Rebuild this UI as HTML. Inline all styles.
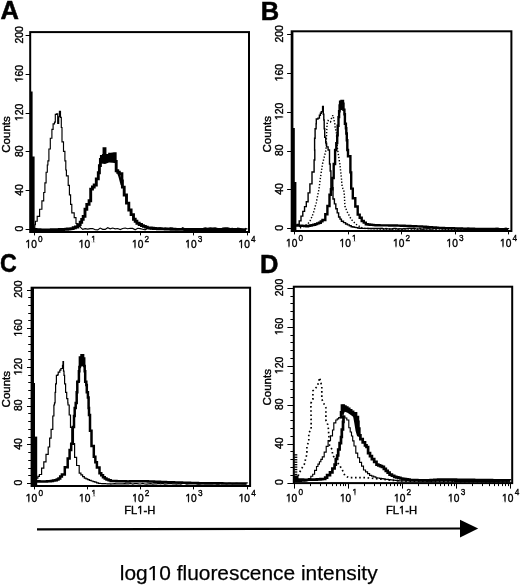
<!DOCTYPE html>
<html><head><meta charset="utf-8"><style>
html,body{margin:0;padding:0;background:#fff;}
body{width:520px;height:586px;overflow:hidden;}
svg{display:block;font-family:"Liberation Sans", sans-serif;will-change:transform;}
</style></head><body>
<svg width="520" height="586" viewBox="0 0 520 586">
<rect x="30.2" y="32.1" width="218.80" height="199.90" fill="none" stroke="#000" stroke-width="2.0"/>
<line x1="25.60" y1="229.50" x2="30.2" y2="229.50" stroke="#000" stroke-width="1.05"/>
<g transform="translate(23.00,228.70) rotate(-90) scale(0.93,1)"><text x="0" y="0" text-anchor="middle" font-size="11.2" stroke="#000" stroke-width="0.4">0</text></g>
<line x1="25.60" y1="190.50" x2="30.2" y2="190.50" stroke="#000" stroke-width="1.05"/>
<g transform="translate(23.00,189.92) rotate(-90) scale(0.93,1)"><text x="0" y="0" text-anchor="middle" font-size="11.2" stroke="#000" stroke-width="0.4">40</text></g>
<line x1="25.60" y1="151.50" x2="30.2" y2="151.50" stroke="#000" stroke-width="1.05"/>
<g transform="translate(23.00,151.14) rotate(-90) scale(0.93,1)"><text x="0" y="0" text-anchor="middle" font-size="11.2" stroke="#000" stroke-width="0.4">80</text></g>
<line x1="25.60" y1="113.50" x2="30.2" y2="113.50" stroke="#000" stroke-width="1.05"/>
<g transform="translate(23.00,112.36) rotate(-90) scale(0.93,1)"><text x="0" y="0" text-anchor="middle" font-size="11.2" stroke="#000" stroke-width="0.4">120</text><rect x="-9.29" y="-1.29" width="2.71" height="2.44" fill="#fff"/><rect x="-5.46" y="-1.29" width="2.63" height="2.44" fill="#fff"/></g>
<line x1="25.60" y1="74.50" x2="30.2" y2="74.50" stroke="#000" stroke-width="1.05"/>
<g transform="translate(23.00,73.58) rotate(-90) scale(0.93,1)"><text x="0" y="0" text-anchor="middle" font-size="11.2" stroke="#000" stroke-width="0.4">160</text><rect x="-9.29" y="-1.29" width="2.71" height="2.44" fill="#fff"/><rect x="-5.46" y="-1.29" width="2.63" height="2.44" fill="#fff"/></g>
<line x1="25.60" y1="35.50" x2="30.2" y2="35.50" stroke="#000" stroke-width="1.05"/>
<g transform="translate(23.00,34.80) rotate(-90) scale(0.93,1)"><text x="0" y="0" text-anchor="middle" font-size="11.2" stroke="#000" stroke-width="0.4">200</text></g>
<text transform="translate(10.00,134.50) rotate(-90)" text-anchor="middle" font-size="11.5" stroke="#000" stroke-width="0.4">Counts</text>
<line x1="34.50" y1="232.0" x2="34.50" y2="235.40" stroke="#000" stroke-width="1.05"/>
<g transform="translate(36.80,248.30) scale(0.91,1)"><text x="0" y="0" text-anchor="end" font-size="11.2" stroke="#000" stroke-width="0.4">10</text><rect x="-12.40" y="-1.29" width="2.71" height="2.44" fill="#fff"/><rect x="-8.57" y="-1.29" width="2.63" height="2.44" fill="#fff"/></g>
<g transform="translate(38.10,241.50) scale(0.84,1)"><text x="0" y="0" text-anchor="start" font-size="9.8" stroke="#000" stroke-width="0.4">0</text></g>
<line x1="87.50" y1="232.0" x2="87.50" y2="235.40" stroke="#000" stroke-width="1.05"/>
<g transform="translate(90.05,248.30) scale(0.91,1)"><text x="0" y="0" text-anchor="end" font-size="11.2" stroke="#000" stroke-width="0.4">10</text><rect x="-12.40" y="-1.29" width="2.71" height="2.44" fill="#fff"/><rect x="-8.57" y="-1.29" width="2.63" height="2.44" fill="#fff"/></g>
<g transform="translate(91.35,241.50) scale(0.84,1)"><text x="0" y="0" text-anchor="start" font-size="9.8" stroke="#000" stroke-width="0.4">1</text><rect x="-0.05" y="-1.18" width="2.47" height="2.33" fill="#fff"/><rect x="3.41" y="-1.18" width="2.39" height="2.33" fill="#fff"/></g>
<line x1="140.50" y1="232.0" x2="140.50" y2="235.40" stroke="#000" stroke-width="1.05"/>
<g transform="translate(143.30,248.30) scale(0.91,1)"><text x="0" y="0" text-anchor="end" font-size="11.2" stroke="#000" stroke-width="0.4">10</text><rect x="-12.40" y="-1.29" width="2.71" height="2.44" fill="#fff"/><rect x="-8.57" y="-1.29" width="2.63" height="2.44" fill="#fff"/></g>
<g transform="translate(144.60,241.50) scale(0.84,1)"><text x="0" y="0" text-anchor="start" font-size="9.8" stroke="#000" stroke-width="0.4">2</text></g>
<line x1="193.50" y1="232.0" x2="193.50" y2="235.40" stroke="#000" stroke-width="1.05"/>
<g transform="translate(196.55,248.30) scale(0.91,1)"><text x="0" y="0" text-anchor="end" font-size="11.2" stroke="#000" stroke-width="0.4">10</text><rect x="-12.40" y="-1.29" width="2.71" height="2.44" fill="#fff"/><rect x="-8.57" y="-1.29" width="2.63" height="2.44" fill="#fff"/></g>
<g transform="translate(197.85,241.50) scale(0.84,1)"><text x="0" y="0" text-anchor="start" font-size="9.8" stroke="#000" stroke-width="0.4">3</text></g>
<line x1="247.50" y1="232.0" x2="247.50" y2="235.40" stroke="#000" stroke-width="1.05"/>
<g transform="translate(249.80,248.30) scale(0.91,1)"><text x="0" y="0" text-anchor="end" font-size="11.2" stroke="#000" stroke-width="0.4">10</text><rect x="-12.40" y="-1.29" width="2.71" height="2.44" fill="#fff"/><rect x="-8.57" y="-1.29" width="2.63" height="2.44" fill="#fff"/></g>
<g transform="translate(251.10,241.50) scale(0.84,1)"><text x="0" y="0" text-anchor="start" font-size="9.8" stroke="#000" stroke-width="0.4">4</text></g>
<text transform="translate(0.6,18.8) scale(1.0,1)" font-size="25.5" font-weight="bold" stroke="#000" stroke-width="0.5">A</text>
<rect x="291.7" y="31.3" width="219.70" height="199.70" fill="none" stroke="#000" stroke-width="2.0"/>
<line x1="287.10" y1="228.50" x2="291.7" y2="228.50" stroke="#000" stroke-width="1.05"/>
<g transform="translate(283.20,227.80) rotate(-90) scale(0.93,1)"><text x="0" y="0" text-anchor="middle" font-size="11.2" stroke="#000" stroke-width="0.4">0</text></g>
<line x1="287.10" y1="189.50" x2="291.7" y2="189.50" stroke="#000" stroke-width="1.05"/>
<g transform="translate(283.20,189.00) rotate(-90) scale(0.93,1)"><text x="0" y="0" text-anchor="middle" font-size="11.2" stroke="#000" stroke-width="0.4">40</text></g>
<line x1="287.10" y1="151.50" x2="291.7" y2="151.50" stroke="#000" stroke-width="1.05"/>
<g transform="translate(283.20,150.20) rotate(-90) scale(0.93,1)"><text x="0" y="0" text-anchor="middle" font-size="11.2" stroke="#000" stroke-width="0.4">80</text></g>
<line x1="287.10" y1="112.50" x2="291.7" y2="112.50" stroke="#000" stroke-width="1.05"/>
<g transform="translate(283.20,111.40) rotate(-90) scale(0.93,1)"><text x="0" y="0" text-anchor="middle" font-size="11.2" stroke="#000" stroke-width="0.4">120</text><rect x="-9.29" y="-1.29" width="2.71" height="2.44" fill="#fff"/><rect x="-5.46" y="-1.29" width="2.63" height="2.44" fill="#fff"/></g>
<line x1="287.10" y1="73.50" x2="291.7" y2="73.50" stroke="#000" stroke-width="1.05"/>
<g transform="translate(283.20,72.60) rotate(-90) scale(0.93,1)"><text x="0" y="0" text-anchor="middle" font-size="11.2" stroke="#000" stroke-width="0.4">160</text><rect x="-9.29" y="-1.29" width="2.71" height="2.44" fill="#fff"/><rect x="-5.46" y="-1.29" width="2.63" height="2.44" fill="#fff"/></g>
<line x1="287.10" y1="34.50" x2="291.7" y2="34.50" stroke="#000" stroke-width="1.05"/>
<g transform="translate(283.20,33.80) rotate(-90) scale(0.93,1)"><text x="0" y="0" text-anchor="middle" font-size="11.2" stroke="#000" stroke-width="0.4">200</text></g>
<text transform="translate(271.10,134.30) rotate(-90)" text-anchor="middle" font-size="11.5" stroke="#000" stroke-width="0.4">Counts</text>
<line x1="294.50" y1="231.0" x2="294.50" y2="234.40" stroke="#000" stroke-width="1.05"/>
<g transform="translate(297.30,247.30) scale(0.91,1)"><text x="0" y="0" text-anchor="end" font-size="11.2" stroke="#000" stroke-width="0.4">10</text><rect x="-12.40" y="-1.29" width="2.71" height="2.44" fill="#fff"/><rect x="-8.57" y="-1.29" width="2.63" height="2.44" fill="#fff"/></g>
<g transform="translate(298.60,240.50) scale(0.84,1)"><text x="0" y="0" text-anchor="start" font-size="9.8" stroke="#000" stroke-width="0.4">0</text></g>
<line x1="348.50" y1="231.0" x2="348.50" y2="234.40" stroke="#000" stroke-width="1.05"/>
<g transform="translate(350.80,247.30) scale(0.91,1)"><text x="0" y="0" text-anchor="end" font-size="11.2" stroke="#000" stroke-width="0.4">10</text><rect x="-12.40" y="-1.29" width="2.71" height="2.44" fill="#fff"/><rect x="-8.57" y="-1.29" width="2.63" height="2.44" fill="#fff"/></g>
<g transform="translate(352.10,240.50) scale(0.84,1)"><text x="0" y="0" text-anchor="start" font-size="9.8" stroke="#000" stroke-width="0.4">1</text><rect x="-0.05" y="-1.18" width="2.47" height="2.33" fill="#fff"/><rect x="3.41" y="-1.18" width="2.39" height="2.33" fill="#fff"/></g>
<line x1="401.50" y1="231.0" x2="401.50" y2="234.40" stroke="#000" stroke-width="1.05"/>
<g transform="translate(404.30,247.30) scale(0.91,1)"><text x="0" y="0" text-anchor="end" font-size="11.2" stroke="#000" stroke-width="0.4">10</text><rect x="-12.40" y="-1.29" width="2.71" height="2.44" fill="#fff"/><rect x="-8.57" y="-1.29" width="2.63" height="2.44" fill="#fff"/></g>
<g transform="translate(405.60,240.50) scale(0.84,1)"><text x="0" y="0" text-anchor="start" font-size="9.8" stroke="#000" stroke-width="0.4">2</text></g>
<line x1="455.50" y1="231.0" x2="455.50" y2="234.40" stroke="#000" stroke-width="1.05"/>
<g transform="translate(457.80,247.30) scale(0.91,1)"><text x="0" y="0" text-anchor="end" font-size="11.2" stroke="#000" stroke-width="0.4">10</text><rect x="-12.40" y="-1.29" width="2.71" height="2.44" fill="#fff"/><rect x="-8.57" y="-1.29" width="2.63" height="2.44" fill="#fff"/></g>
<g transform="translate(459.10,240.50) scale(0.84,1)"><text x="0" y="0" text-anchor="start" font-size="9.8" stroke="#000" stroke-width="0.4">3</text></g>
<line x1="508.50" y1="231.0" x2="508.50" y2="234.40" stroke="#000" stroke-width="1.05"/>
<g transform="translate(511.30,247.30) scale(0.91,1)"><text x="0" y="0" text-anchor="end" font-size="11.2" stroke="#000" stroke-width="0.4">10</text><rect x="-12.40" y="-1.29" width="2.71" height="2.44" fill="#fff"/><rect x="-8.57" y="-1.29" width="2.63" height="2.44" fill="#fff"/></g>
<g transform="translate(512.60,240.50) scale(0.84,1)"><text x="0" y="0" text-anchor="start" font-size="9.8" stroke="#000" stroke-width="0.4">4</text></g>
<text transform="translate(260.8,19.6) scale(1.0,1)" font-size="25.5" font-weight="bold" stroke="#000" stroke-width="0.5">B</text>
<rect x="31.6" y="287.7" width="218.50" height="198.30" fill="none" stroke="#000" stroke-width="2.0"/>
<line x1="27.00" y1="483.50" x2="31.6" y2="483.50" stroke="#000" stroke-width="1.05"/>
<g transform="translate(22.40,482.70) rotate(-90) scale(0.93,1)"><text x="0" y="0" text-anchor="middle" font-size="11.2" stroke="#000" stroke-width="0.4">0</text></g>
<line x1="27.00" y1="444.50" x2="31.6" y2="444.50" stroke="#000" stroke-width="1.05"/>
<g transform="translate(22.40,444.00) rotate(-90) scale(0.93,1)"><text x="0" y="0" text-anchor="middle" font-size="11.2" stroke="#000" stroke-width="0.4">40</text></g>
<line x1="27.00" y1="406.50" x2="31.6" y2="406.50" stroke="#000" stroke-width="1.05"/>
<g transform="translate(22.40,405.30) rotate(-90) scale(0.93,1)"><text x="0" y="0" text-anchor="middle" font-size="11.2" stroke="#000" stroke-width="0.4">80</text></g>
<line x1="27.00" y1="367.50" x2="31.6" y2="367.50" stroke="#000" stroke-width="1.05"/>
<g transform="translate(22.40,366.60) rotate(-90) scale(0.93,1)"><text x="0" y="0" text-anchor="middle" font-size="11.2" stroke="#000" stroke-width="0.4">120</text><rect x="-9.29" y="-1.29" width="2.71" height="2.44" fill="#fff"/><rect x="-5.46" y="-1.29" width="2.63" height="2.44" fill="#fff"/></g>
<line x1="27.00" y1="328.50" x2="31.6" y2="328.50" stroke="#000" stroke-width="1.05"/>
<g transform="translate(22.40,327.90) rotate(-90) scale(0.93,1)"><text x="0" y="0" text-anchor="middle" font-size="11.2" stroke="#000" stroke-width="0.4">160</text><rect x="-9.29" y="-1.29" width="2.71" height="2.44" fill="#fff"/><rect x="-5.46" y="-1.29" width="2.63" height="2.44" fill="#fff"/></g>
<line x1="27.00" y1="290.50" x2="31.6" y2="290.50" stroke="#000" stroke-width="1.05"/>
<g transform="translate(22.40,289.20) rotate(-90) scale(0.93,1)"><text x="0" y="0" text-anchor="middle" font-size="11.2" stroke="#000" stroke-width="0.4">200</text></g>
<line x1="28.20" y1="475.50" x2="31.6" y2="475.50" stroke="#000" stroke-width="1.05"/>
<line x1="28.20" y1="468.50" x2="31.6" y2="468.50" stroke="#000" stroke-width="1.05"/>
<line x1="28.20" y1="460.50" x2="31.6" y2="460.50" stroke="#000" stroke-width="1.05"/>
<line x1="28.20" y1="452.50" x2="31.6" y2="452.50" stroke="#000" stroke-width="1.05"/>
<line x1="28.20" y1="437.50" x2="31.6" y2="437.50" stroke="#000" stroke-width="1.05"/>
<line x1="28.20" y1="429.50" x2="31.6" y2="429.50" stroke="#000" stroke-width="1.05"/>
<line x1="28.20" y1="421.50" x2="31.6" y2="421.50" stroke="#000" stroke-width="1.05"/>
<line x1="28.20" y1="413.50" x2="31.6" y2="413.50" stroke="#000" stroke-width="1.05"/>
<line x1="28.20" y1="398.50" x2="31.6" y2="398.50" stroke="#000" stroke-width="1.05"/>
<line x1="28.20" y1="390.50" x2="31.6" y2="390.50" stroke="#000" stroke-width="1.05"/>
<line x1="28.20" y1="382.50" x2="31.6" y2="382.50" stroke="#000" stroke-width="1.05"/>
<line x1="28.20" y1="375.50" x2="31.6" y2="375.50" stroke="#000" stroke-width="1.05"/>
<line x1="28.20" y1="359.50" x2="31.6" y2="359.50" stroke="#000" stroke-width="1.05"/>
<line x1="28.20" y1="351.50" x2="31.6" y2="351.50" stroke="#000" stroke-width="1.05"/>
<line x1="28.20" y1="344.50" x2="31.6" y2="344.50" stroke="#000" stroke-width="1.05"/>
<line x1="28.20" y1="336.50" x2="31.6" y2="336.50" stroke="#000" stroke-width="1.05"/>
<line x1="28.20" y1="320.50" x2="31.6" y2="320.50" stroke="#000" stroke-width="1.05"/>
<line x1="28.20" y1="313.50" x2="31.6" y2="313.50" stroke="#000" stroke-width="1.05"/>
<line x1="28.20" y1="305.50" x2="31.6" y2="305.50" stroke="#000" stroke-width="1.05"/>
<line x1="28.20" y1="297.50" x2="31.6" y2="297.50" stroke="#000" stroke-width="1.05"/>
<text transform="translate(10.20,389.20) rotate(-90)" text-anchor="middle" font-size="11.5" stroke="#000" stroke-width="0.4">Counts</text>
<line x1="34.50" y1="486.0" x2="34.50" y2="489.40" stroke="#000" stroke-width="1.05"/>
<g transform="translate(37.10,502.30) scale(0.91,1)"><text x="0" y="0" text-anchor="end" font-size="11.2" stroke="#000" stroke-width="0.4">10</text><rect x="-12.40" y="-1.29" width="2.71" height="2.44" fill="#fff"/><rect x="-8.57" y="-1.29" width="2.63" height="2.44" fill="#fff"/></g>
<g transform="translate(38.40,495.50) scale(0.84,1)"><text x="0" y="0" text-anchor="start" font-size="9.8" stroke="#000" stroke-width="0.4">0</text></g>
<line x1="87.50" y1="486.0" x2="87.50" y2="489.40" stroke="#000" stroke-width="1.05"/>
<g transform="translate(90.32,502.30) scale(0.91,1)"><text x="0" y="0" text-anchor="end" font-size="11.2" stroke="#000" stroke-width="0.4">10</text><rect x="-12.40" y="-1.29" width="2.71" height="2.44" fill="#fff"/><rect x="-8.57" y="-1.29" width="2.63" height="2.44" fill="#fff"/></g>
<g transform="translate(91.62,495.50) scale(0.84,1)"><text x="0" y="0" text-anchor="start" font-size="9.8" stroke="#000" stroke-width="0.4">1</text><rect x="-0.05" y="-1.18" width="2.47" height="2.33" fill="#fff"/><rect x="3.41" y="-1.18" width="2.39" height="2.33" fill="#fff"/></g>
<line x1="140.50" y1="486.0" x2="140.50" y2="489.40" stroke="#000" stroke-width="1.05"/>
<g transform="translate(143.55,502.30) scale(0.91,1)"><text x="0" y="0" text-anchor="end" font-size="11.2" stroke="#000" stroke-width="0.4">10</text><rect x="-12.40" y="-1.29" width="2.71" height="2.44" fill="#fff"/><rect x="-8.57" y="-1.29" width="2.63" height="2.44" fill="#fff"/></g>
<g transform="translate(144.85,495.50) scale(0.84,1)"><text x="0" y="0" text-anchor="start" font-size="9.8" stroke="#000" stroke-width="0.4">2</text></g>
<line x1="193.50" y1="486.0" x2="193.50" y2="489.40" stroke="#000" stroke-width="1.05"/>
<g transform="translate(196.77,502.30) scale(0.91,1)"><text x="0" y="0" text-anchor="end" font-size="11.2" stroke="#000" stroke-width="0.4">10</text><rect x="-12.40" y="-1.29" width="2.71" height="2.44" fill="#fff"/><rect x="-8.57" y="-1.29" width="2.63" height="2.44" fill="#fff"/></g>
<g transform="translate(198.07,495.50) scale(0.84,1)"><text x="0" y="0" text-anchor="start" font-size="9.8" stroke="#000" stroke-width="0.4">3</text></g>
<line x1="247.50" y1="486.0" x2="247.50" y2="489.40" stroke="#000" stroke-width="1.05"/>
<g transform="translate(250.00,502.30) scale(0.91,1)"><text x="0" y="0" text-anchor="end" font-size="11.2" stroke="#000" stroke-width="0.4">10</text><rect x="-12.40" y="-1.29" width="2.71" height="2.44" fill="#fff"/><rect x="-8.57" y="-1.29" width="2.63" height="2.44" fill="#fff"/></g>
<g transform="translate(251.30,495.50) scale(0.84,1)"><text x="0" y="0" text-anchor="start" font-size="9.8" stroke="#000" stroke-width="0.4">4</text></g>
<g transform="translate(139.75,514.00)"><text x="0" y="0" text-anchor="middle" font-size="11.2" stroke="#000" stroke-width="0.4">FL1-H</text><rect x="-2.44" y="-1.29" width="2.71" height="2.44" fill="#fff"/><rect x="1.40" y="-1.29" width="2.63" height="2.44" fill="#fff"/></g>
<text transform="translate(0.0,272.2) scale(0.91,1)" font-size="25.5" font-weight="bold" stroke="#000" stroke-width="0.5">C</text>
<rect x="293.8" y="286.7" width="218.40" height="196.40" fill="none" stroke="#000" stroke-width="2.0"/>
<line x1="287.40" y1="483.50" x2="293.8" y2="483.50" stroke="#000" stroke-width="1.05"/>
<g transform="translate(283.00,482.20) rotate(-90) scale(0.93,1)"><text x="0" y="0" text-anchor="middle" font-size="11.2" stroke="#000" stroke-width="0.4">0</text></g>
<line x1="287.40" y1="444.50" x2="293.8" y2="444.50" stroke="#000" stroke-width="1.05"/>
<g transform="translate(283.00,443.26) rotate(-90) scale(0.93,1)"><text x="0" y="0" text-anchor="middle" font-size="11.2" stroke="#000" stroke-width="0.4">40</text></g>
<line x1="287.40" y1="405.50" x2="293.8" y2="405.50" stroke="#000" stroke-width="1.05"/>
<g transform="translate(283.00,404.32) rotate(-90) scale(0.93,1)"><text x="0" y="0" text-anchor="middle" font-size="11.2" stroke="#000" stroke-width="0.4">80</text></g>
<line x1="287.40" y1="366.50" x2="293.8" y2="366.50" stroke="#000" stroke-width="1.05"/>
<g transform="translate(283.00,365.38) rotate(-90) scale(0.93,1)"><text x="0" y="0" text-anchor="middle" font-size="11.2" stroke="#000" stroke-width="0.4">120</text><rect x="-9.29" y="-1.29" width="2.71" height="2.44" fill="#fff"/><rect x="-5.46" y="-1.29" width="2.63" height="2.44" fill="#fff"/></g>
<line x1="287.40" y1="327.50" x2="293.8" y2="327.50" stroke="#000" stroke-width="1.05"/>
<g transform="translate(283.00,326.44) rotate(-90) scale(0.93,1)"><text x="0" y="0" text-anchor="middle" font-size="11.2" stroke="#000" stroke-width="0.4">160</text><rect x="-9.29" y="-1.29" width="2.71" height="2.44" fill="#fff"/><rect x="-5.46" y="-1.29" width="2.63" height="2.44" fill="#fff"/></g>
<line x1="287.40" y1="288.50" x2="293.8" y2="288.50" stroke="#000" stroke-width="1.05"/>
<g transform="translate(283.00,287.50) rotate(-90) scale(0.93,1)"><text x="0" y="0" text-anchor="middle" font-size="11.2" stroke="#000" stroke-width="0.4">200</text></g>
<line x1="290.40" y1="475.50" x2="293.8" y2="475.50" stroke="#000" stroke-width="1.05"/>
<line x1="290.40" y1="467.50" x2="293.8" y2="467.50" stroke="#000" stroke-width="1.05"/>
<line x1="290.40" y1="459.50" x2="293.8" y2="459.50" stroke="#000" stroke-width="1.05"/>
<line x1="290.40" y1="451.50" x2="293.8" y2="451.50" stroke="#000" stroke-width="1.05"/>
<line x1="290.40" y1="436.50" x2="293.8" y2="436.50" stroke="#000" stroke-width="1.05"/>
<line x1="290.40" y1="428.50" x2="293.8" y2="428.50" stroke="#000" stroke-width="1.05"/>
<line x1="290.40" y1="420.50" x2="293.8" y2="420.50" stroke="#000" stroke-width="1.05"/>
<line x1="290.40" y1="412.50" x2="293.8" y2="412.50" stroke="#000" stroke-width="1.05"/>
<line x1="290.40" y1="397.50" x2="293.8" y2="397.50" stroke="#000" stroke-width="1.05"/>
<line x1="290.40" y1="389.50" x2="293.8" y2="389.50" stroke="#000" stroke-width="1.05"/>
<line x1="290.40" y1="381.50" x2="293.8" y2="381.50" stroke="#000" stroke-width="1.05"/>
<line x1="290.40" y1="373.50" x2="293.8" y2="373.50" stroke="#000" stroke-width="1.05"/>
<line x1="290.40" y1="358.50" x2="293.8" y2="358.50" stroke="#000" stroke-width="1.05"/>
<line x1="290.40" y1="350.50" x2="293.8" y2="350.50" stroke="#000" stroke-width="1.05"/>
<line x1="290.40" y1="342.50" x2="293.8" y2="342.50" stroke="#000" stroke-width="1.05"/>
<line x1="290.40" y1="335.50" x2="293.8" y2="335.50" stroke="#000" stroke-width="1.05"/>
<line x1="290.40" y1="319.50" x2="293.8" y2="319.50" stroke="#000" stroke-width="1.05"/>
<line x1="290.40" y1="311.50" x2="293.8" y2="311.50" stroke="#000" stroke-width="1.05"/>
<line x1="290.40" y1="303.50" x2="293.8" y2="303.50" stroke="#000" stroke-width="1.05"/>
<line x1="290.40" y1="296.50" x2="293.8" y2="296.50" stroke="#000" stroke-width="1.05"/>
<text transform="translate(271.40,387.30) rotate(-90)" text-anchor="middle" font-size="11.5" stroke="#000" stroke-width="0.4">Counts</text>
<line x1="294.50" y1="483.1" x2="294.50" y2="488.60" stroke="#000" stroke-width="1.05"/>
<g transform="translate(297.20,502.30) scale(0.91,1)"><text x="0" y="0" text-anchor="end" font-size="11.2" stroke="#000" stroke-width="0.4">10</text><rect x="-12.40" y="-1.29" width="2.71" height="2.44" fill="#fff"/><rect x="-8.57" y="-1.29" width="2.63" height="2.44" fill="#fff"/></g>
<g transform="translate(298.50,494.90) scale(0.84,1)"><text x="0" y="0" text-anchor="start" font-size="9.8" stroke="#000" stroke-width="0.4">0</text></g>
<line x1="348.50" y1="483.1" x2="348.50" y2="488.60" stroke="#000" stroke-width="1.05"/>
<g transform="translate(351.25,502.30) scale(0.91,1)"><text x="0" y="0" text-anchor="end" font-size="11.2" stroke="#000" stroke-width="0.4">10</text><rect x="-12.40" y="-1.29" width="2.71" height="2.44" fill="#fff"/><rect x="-8.57" y="-1.29" width="2.63" height="2.44" fill="#fff"/></g>
<g transform="translate(352.55,494.90) scale(0.84,1)"><text x="0" y="0" text-anchor="start" font-size="9.8" stroke="#000" stroke-width="0.4">1</text><rect x="-0.05" y="-1.18" width="2.47" height="2.33" fill="#fff"/><rect x="3.41" y="-1.18" width="2.39" height="2.33" fill="#fff"/></g>
<line x1="402.50" y1="483.1" x2="402.50" y2="488.60" stroke="#000" stroke-width="1.05"/>
<g transform="translate(405.30,502.30) scale(0.91,1)"><text x="0" y="0" text-anchor="end" font-size="11.2" stroke="#000" stroke-width="0.4">10</text><rect x="-12.40" y="-1.29" width="2.71" height="2.44" fill="#fff"/><rect x="-8.57" y="-1.29" width="2.63" height="2.44" fill="#fff"/></g>
<g transform="translate(406.60,494.90) scale(0.84,1)"><text x="0" y="0" text-anchor="start" font-size="9.8" stroke="#000" stroke-width="0.4">2</text></g>
<line x1="456.50" y1="483.1" x2="456.50" y2="488.60" stroke="#000" stroke-width="1.05"/>
<g transform="translate(459.35,502.30) scale(0.91,1)"><text x="0" y="0" text-anchor="end" font-size="11.2" stroke="#000" stroke-width="0.4">10</text><rect x="-12.40" y="-1.29" width="2.71" height="2.44" fill="#fff"/><rect x="-8.57" y="-1.29" width="2.63" height="2.44" fill="#fff"/></g>
<g transform="translate(460.65,494.90) scale(0.84,1)"><text x="0" y="0" text-anchor="start" font-size="9.8" stroke="#000" stroke-width="0.4">3</text></g>
<line x1="510.50" y1="483.1" x2="510.50" y2="488.60" stroke="#000" stroke-width="1.05"/>
<g transform="translate(513.40,502.30) scale(0.91,1)"><text x="0" y="0" text-anchor="end" font-size="11.2" stroke="#000" stroke-width="0.4">10</text><rect x="-12.40" y="-1.29" width="2.71" height="2.44" fill="#fff"/><rect x="-8.57" y="-1.29" width="2.63" height="2.44" fill="#fff"/></g>
<g transform="translate(514.70,494.90) scale(0.84,1)"><text x="0" y="0" text-anchor="start" font-size="9.8" stroke="#000" stroke-width="0.4">4</text></g>
<line x1="310.50" y1="483.1" x2="310.50" y2="486.10" stroke="#000" stroke-width="1.05"/>
<line x1="320.50" y1="483.1" x2="320.50" y2="486.10" stroke="#000" stroke-width="1.05"/>
<line x1="326.50" y1="483.1" x2="326.50" y2="486.10" stroke="#000" stroke-width="1.05"/>
<line x1="332.50" y1="483.1" x2="332.50" y2="486.10" stroke="#000" stroke-width="1.05"/>
<line x1="336.50" y1="483.1" x2="336.50" y2="486.10" stroke="#000" stroke-width="1.05"/>
<line x1="340.50" y1="483.1" x2="340.50" y2="486.10" stroke="#000" stroke-width="1.05"/>
<line x1="343.50" y1="483.1" x2="343.50" y2="486.10" stroke="#000" stroke-width="1.05"/>
<line x1="345.50" y1="483.1" x2="345.50" y2="486.10" stroke="#000" stroke-width="1.05"/>
<line x1="364.50" y1="483.1" x2="364.50" y2="486.10" stroke="#000" stroke-width="1.05"/>
<line x1="374.50" y1="483.1" x2="374.50" y2="486.10" stroke="#000" stroke-width="1.05"/>
<line x1="380.50" y1="483.1" x2="380.50" y2="486.10" stroke="#000" stroke-width="1.05"/>
<line x1="386.50" y1="483.1" x2="386.50" y2="486.10" stroke="#000" stroke-width="1.05"/>
<line x1="390.50" y1="483.1" x2="390.50" y2="486.10" stroke="#000" stroke-width="1.05"/>
<line x1="394.50" y1="483.1" x2="394.50" y2="486.10" stroke="#000" stroke-width="1.05"/>
<line x1="397.50" y1="483.1" x2="397.50" y2="486.10" stroke="#000" stroke-width="1.05"/>
<line x1="400.50" y1="483.1" x2="400.50" y2="486.10" stroke="#000" stroke-width="1.05"/>
<line x1="418.50" y1="483.1" x2="418.50" y2="486.10" stroke="#000" stroke-width="1.05"/>
<line x1="428.50" y1="483.1" x2="428.50" y2="486.10" stroke="#000" stroke-width="1.05"/>
<line x1="435.50" y1="483.1" x2="435.50" y2="486.10" stroke="#000" stroke-width="1.05"/>
<line x1="440.50" y1="483.1" x2="440.50" y2="486.10" stroke="#000" stroke-width="1.05"/>
<line x1="444.50" y1="483.1" x2="444.50" y2="486.10" stroke="#000" stroke-width="1.05"/>
<line x1="448.50" y1="483.1" x2="448.50" y2="486.10" stroke="#000" stroke-width="1.05"/>
<line x1="451.50" y1="483.1" x2="451.50" y2="486.10" stroke="#000" stroke-width="1.05"/>
<line x1="454.50" y1="483.1" x2="454.50" y2="486.10" stroke="#000" stroke-width="1.05"/>
<line x1="472.50" y1="483.1" x2="472.50" y2="486.10" stroke="#000" stroke-width="1.05"/>
<line x1="482.50" y1="483.1" x2="482.50" y2="486.10" stroke="#000" stroke-width="1.05"/>
<line x1="489.50" y1="483.1" x2="489.50" y2="486.10" stroke="#000" stroke-width="1.05"/>
<line x1="494.50" y1="483.1" x2="494.50" y2="486.10" stroke="#000" stroke-width="1.05"/>
<line x1="498.50" y1="483.1" x2="498.50" y2="486.10" stroke="#000" stroke-width="1.05"/>
<line x1="502.50" y1="483.1" x2="502.50" y2="486.10" stroke="#000" stroke-width="1.05"/>
<line x1="505.50" y1="483.1" x2="505.50" y2="486.10" stroke="#000" stroke-width="1.05"/>
<line x1="508.50" y1="483.1" x2="508.50" y2="486.10" stroke="#000" stroke-width="1.05"/>
<g transform="translate(401.50,514.00)"><text x="0" y="0" text-anchor="middle" font-size="11.2" stroke="#000" stroke-width="0.4">FL1-H</text><rect x="-2.44" y="-1.29" width="2.71" height="2.44" fill="#fff"/><rect x="1.40" y="-1.29" width="2.63" height="2.44" fill="#fff"/></g>
<text transform="translate(260.0,272.5) scale(1.0,1)" font-size="25.5" font-weight="bold" stroke="#000" stroke-width="0.5">D</text>
<polyline points="32.50,229.00 33.50,229.00 33.50,228.00 34.80,228.00 34.80,224.70 35.40,224.70 35.40,221.20 37.20,221.20 37.20,216.40 39.60,216.40 39.60,209.20 41.90,209.20 41.90,200.80 43.70,200.80 43.70,192.50 44.90,192.50 44.90,182.90 46.10,182.90 46.10,172.20 47.30,172.20 47.30,165.00 47.90,165.00 47.90,160.90 48.90,160.90 48.90,149.00 50.30,149.00 50.30,138.20 51.90,138.20 51.90,129.30 53.10,129.30 53.10,123.90 54.50,123.90 54.50,122.10 55.30,122.10 55.30,114.30 56.50,114.30 56.50,113.70 57.70,113.70 57.70,123.30 58.70,123.30 58.70,116.70 59.40,116.70 59.40,111.40 60.50,111.40 60.50,117.30 61.30,117.30 61.30,127.50 62.00,127.50 62.00,141.80 63.50,141.80 63.50,151.40 64.90,151.40 64.90,160.90 65.80,160.90 65.80,170.00 66.40,170.00 66.40,175.80 68.20,175.80 68.20,185.30 69.40,185.30 69.40,194.90 70.60,194.90 70.60,204.40 71.80,204.40 71.80,212.80 74.20,212.80 74.20,217.60 76.00,217.60 76.00,223.50 77.20,223.50 77.20,225.90 78.70,225.90 78.70,226.50 80.20,226.50 80.20,227.10 82.70,229.38 85.20,228.70 87.70,229.09 90.20,228.57 92.70,228.52 95.20,229.76 97.70,229.87 100.20,228.06 102.70,229.33 105.20,229.38 107.70,227.71 110.20,228.87 112.70,228.06 115.20,228.85 117.70,228.49 120.20,229.57 122.70,228.50 125.20,227.99 127.70,228.75 130.20,228.27 132.70,228.42 135.20,229.76 137.70,228.23 140.20,228.60 142.70,229.24 145.20,229.83 147.70,228.00 150.20,228.86 152.70,228.32 155.20,227.97 157.70,228.33 160.20,227.87 162.70,229.03 165.20,228.14 167.70,228.92 170.20,227.84 172.70,227.97 175.20,229.69 177.70,229.60 180.20,229.42 182.70,227.78 185.20,228.94 187.70,228.52 190.20,229.24 192.70,228.78 195.20,229.05 197.70,229.13 200.20,228.61 202.70,228.61 205.20,227.91 207.70,228.40 210.20,227.86 212.70,228.02 215.20,227.72 217.70,228.42 220.20,229.54 222.70,228.01 225.20,227.78 227.70,227.91 230.20,228.65 232.70,228.33 235.20,229.44 237.70,228.07 240.20,228.64 242.70,229.27 245.20,229.76 246.00,228.02" fill="none" stroke="#000" stroke-width="1.15" stroke-linejoin="miter" stroke-miterlimit="2" />
<rect x="31.0" y="91.5" width="1.60" height="139.50" fill="#000"/>
<polyline points="34.00,229.50 36.00,229.50 36.00,229.62 38.00,229.62 38.00,229.75 40.00,229.75 40.00,229.88 42.00,229.88 42.00,230.00 43.86,230.00 43.86,229.96 45.71,229.96 45.71,229.91 47.57,229.91 47.57,229.87 49.43,229.87 49.43,229.83 51.29,229.83 51.29,229.79 53.14,229.79 53.14,229.74 55.00,229.74 55.00,229.70 57.16,229.70 57.16,229.62 59.32,229.62 59.32,229.54 61.48,229.54 61.48,229.46 63.64,229.46 63.64,229.38 65.80,229.38 65.80,229.30 67.53,229.30 67.53,229.07 69.27,229.07 69.27,228.83 71.00,228.83 71.00,228.60 73.20,228.60 73.20,227.80 75.40,227.80 75.40,227.00 77.80,227.00 77.80,224.65 80.20,224.65 80.20,222.30 81.70,222.30 81.70,219.35 83.20,219.35 83.20,216.40 85.00,216.40 85.00,209.20 86.80,209.20 86.80,204.40 89.10,204.40 89.10,200.80 90.70,200.80 90.70,189.10 92.45,189.10 92.45,187.05 94.20,187.05 94.20,185.00 96.30,185.00 96.30,178.90 98.30,178.90 98.30,172.80 99.40,172.80 99.40,165.60 100.40,165.60 100.40,159.40 101.40,159.40 101.40,156.40 103.40,156.40 103.40,155.40 104.00,155.40 104.00,148.70 105.00,148.70 105.00,155.40 107.50,155.40 107.50,157.40 108.60,157.40 108.60,160.50 109.60,160.50 109.60,154.30 111.30,154.30 111.30,154.13 113.00,154.13 113.00,153.97 114.70,153.97 114.70,153.80 115.20,153.80 115.20,161.50 116.20,161.50 116.20,170.70 117.75,170.70 117.75,172.25 119.30,172.25 119.30,173.80 121.90,173.80 121.90,180.90 122.40,180.90 122.40,187.10 124.20,187.10 124.20,195.00 126.50,195.00 126.50,203.10 128.80,203.10 128.80,210.00 131.10,210.00 131.10,214.60 133.50,214.60 133.50,219.20 135.20,219.20 135.20,221.25 136.90,221.25 136.90,223.30 139.20,223.30 139.20,224.45 141.50,224.45 141.50,225.60 143.43,225.60 143.43,226.37 145.37,226.37 145.37,227.13 147.30,227.13 147.30,227.90 149.33,227.90 149.33,228.07 151.35,228.07 151.35,228.25 153.38,228.25 153.38,228.43 155.40,228.43 155.40,228.60 157.36,228.60 157.36,228.68 159.32,228.68 159.32,228.76 161.28,228.76 161.28,228.84 163.24,228.84 163.24,228.92 165.20,228.92 165.20,229.00 167.16,229.00 167.16,229.08 169.12,229.08 169.12,229.16 171.08,229.16 171.08,229.24 173.04,229.24 173.04,229.32 175.00,229.32 175.00,229.40 176.97,229.40 176.97,229.41 178.94,229.41 178.94,229.41 180.92,229.41 180.92,229.42 182.89,229.42 182.89,229.42 184.86,229.42 184.86,229.43 186.83,229.43 186.83,229.43 188.81,229.43 188.81,229.44 190.78,229.44 190.78,229.44 192.75,229.44 192.75,229.45 194.72,229.45 194.72,229.46 196.69,229.46 196.69,229.46 198.67,229.46 198.67,229.47 200.64,229.47 200.64,229.47 202.61,229.47 202.61,229.48 204.58,229.48 204.58,229.48 206.56,229.48 206.56,229.49 208.53,229.49 208.53,229.49 210.50,229.49 210.50,229.50 212.47,229.50 212.47,229.51 214.44,229.51 214.44,229.51 216.42,229.51 216.42,229.52 218.39,229.52 218.39,229.52 220.36,229.52 220.36,229.53 222.33,229.53 222.33,229.53 224.31,229.53 224.31,229.54 226.28,229.54 226.28,229.54 228.25,229.54 228.25,229.55 230.22,229.55 230.22,229.56 232.19,229.56 232.19,229.56 234.17,229.56 234.17,229.57 236.14,229.57 236.14,229.57 238.11,229.57 238.11,229.58 240.08,229.58 240.08,229.58 242.06,229.58 242.06,229.59 244.03,229.59 244.03,229.59 246.00,229.59 246.00,229.60" fill="none" stroke="#000" stroke-width="2.9" stroke-linejoin="miter" stroke-miterlimit="2" />
<rect x="31.0" y="156.5" width="3.60" height="74.50" fill="#000"/>
<polygon points="100.40,159.00 101.40,156.00 103.40,155.40 104.00,148.70 105.00,155.40 109.60,154.30 114.70,153.80 115.60,163.00 109.00,162.50 105.00,164.00 101.00,163.50" fill="#000"/>
<polygon points="116.50,171.00 119.50,172.80 121.90,180.90 122.40,187.10 120.60,185.00 118.50,177.00" fill="#000"/>
<polyline points="296.50,224.50 299.20,224.50 299.20,220.90 301.00,220.90 301.00,216.15 302.80,216.15 302.80,211.40 304.55,211.40 304.55,206.60 306.30,206.60 306.30,201.80 308.10,201.80 308.10,192.85 309.90,192.85 309.90,183.90 312.00,183.90 312.00,172.00 314.10,172.00 314.10,160.00 314.80,160.00 314.80,150.00 314.60,150.00 314.60,138.30 315.10,138.30 315.10,128.70 316.10,128.70 316.10,123.80 316.30,123.80 316.30,119.00 318.00,119.00 318.00,118.10 319.40,118.10 319.40,115.20 320.40,115.20 320.40,113.30 321.30,113.30 321.30,111.80 322.60,111.80 322.60,106.50 323.30,106.50 323.30,114.20 323.80,114.20 323.80,120.00 324.20,120.00 324.20,128.70 324.70,128.70 324.70,137.30 325.70,137.30 325.70,143.10 326.60,143.10 326.60,146.90 328.10,146.90 328.10,150.00 329.50,150.00 329.50,164.00 330.20,164.00 330.20,171.00 330.90,171.00 330.90,187.80 333.00,187.80 333.00,199.00 334.40,199.00 334.40,203.85 335.80,203.85 335.80,208.70 337.20,208.70 337.20,212.85 338.60,212.85 338.60,217.00 340.00,217.00 340.00,219.15 341.40,219.15 341.40,221.30 343.50,221.30 343.50,222.65 345.60,222.65 345.60,224.00 347.47,224.00 347.47,224.90 349.33,224.90 349.33,225.80 351.20,225.80 351.20,226.70 352.82,226.70 352.82,227.02 354.44,227.02 354.44,227.34 356.06,227.34 356.06,227.66 357.68,227.66 357.68,227.98 359.30,227.98 359.30,228.30 361.18,228.30 361.18,228.33 363.06,228.33 363.06,228.35 364.95,228.35 364.95,228.38 366.83,228.38 366.83,228.41 368.71,228.41 368.71,228.44 370.59,228.44 370.59,228.46 372.47,228.46 372.47,228.49 374.35,228.49 374.35,228.52 376.24,228.52 376.24,228.55 378.12,228.55 378.12,228.57 380.00,228.57 380.00,228.60 382.00,228.31 384.00,229.12 386.00,228.48 388.00,228.83 390.00,229.06 392.00,228.94 394.00,228.51 396.00,228.41 398.00,229.16 400.00,228.65 402.00,229.16 404.00,228.55 406.00,228.90 408.00,228.41 410.00,228.32 412.00,228.75 414.00,228.30 416.00,228.92 418.00,229.13 420.00,228.66 422.00,229.17 424.00,229.02 426.00,228.83 428.00,228.65 430.00,229.06 432.00,229.16 434.00,228.42 436.00,228.92 438.00,228.34 440.00,228.39 442.00,228.86 444.00,228.79 446.00,228.73 448.00,228.62 450.00,228.66 452.00,228.70 454.00,228.64 456.00,228.35 458.00,228.74 460.00,228.81 462.00,228.55 464.00,228.99 466.00,228.93 468.00,228.32 470.00,228.73 472.00,228.71 474.00,229.19 476.00,228.83 478.00,228.68 480.00,229.18 482.00,228.65 484.00,228.63 486.00,229.15 488.00,228.64 490.00,228.78 492.00,228.59 494.00,228.88 496.00,228.56 498.00,228.54 500.00,229.18 502.00,229.15 504.00,228.59 506.00,228.33 508.00,228.97" fill="none" stroke="#000" stroke-width="1.4" stroke-linejoin="miter" stroke-miterlimit="2" />
<rect x="292.0" y="31.3" width="1.40" height="198.70" fill="#000"/>
<rect x="292.0" y="128" width="2.80" height="102.00" fill="#000"/>
<polyline points="300.00,228.00 307.80,224.00 310.60,220.00 313.40,213.00 316.20,203.00 319.00,189.00 320.40,178.00 322.50,164.00 326.00,150.00 326.60,133.50 327.10,123.80 328.10,120.50 330.50,121.90 331.40,118.60 332.90,115.20 333.80,119.00 334.80,123.80 335.30,128.70 336.30,131.50 337.40,148.10 339.90,164.30 341.40,178.00 342.10,186.40 344.20,192.00 344.90,206.00 347.00,211.50 350.00,217.00 351.20,219.40 356.10,224.30 362.60,228.30 380.00,229.00 508.00,229.30" fill="none" stroke="#000" stroke-width="1.45" stroke-linejoin="miter" stroke-miterlimit="2" stroke-dasharray="1.3 1.8"/>
<polyline points="296.00,225.50 298.08,225.50 298.08,225.64 300.16,225.64 300.16,225.78 302.24,225.78 302.24,225.92 304.32,225.92 304.32,226.06 306.40,226.06 306.40,226.20 308.15,226.20 308.15,225.85 309.90,225.85 309.90,225.50 311.65,225.50 311.65,225.15 313.40,225.15 313.40,224.80 315.27,224.80 315.27,224.10 317.13,224.10 317.13,223.40 319.00,223.40 319.00,222.70 320.75,222.70 320.75,221.35 322.50,221.35 322.50,220.00 325.30,220.00 325.30,214.30 327.40,214.30 327.40,206.00 329.50,206.00 329.50,194.80 330.90,194.80 330.90,189.20 332.30,189.20 332.30,178.00 333.70,178.00 333.70,164.00 335.10,164.00 335.10,150.00 336.30,150.00 336.30,143.10 337.20,143.10 337.20,135.40 337.70,135.40 337.70,125.80 338.50,125.80 338.50,117.10 339.10,117.10 339.10,111.30 339.60,111.30 339.60,105.40 340.10,105.40 340.10,101.80 341.50,101.80 341.50,100.90 343.00,100.90 343.00,103.60 343.50,103.60 343.50,109.80 344.40,109.80 344.40,114.20 344.90,114.20 344.90,123.80 345.90,123.80 345.90,128.20 346.30,128.20 346.30,133.50 346.80,133.50 346.80,140.20 347.30,140.20 347.30,150.00 348.00,150.00 348.00,156.20 350.40,156.20 350.40,172.40 351.20,172.40 351.20,188.60 352.80,188.60 352.80,198.30 355.30,198.30 355.30,206.50 357.70,206.50 357.70,214.60 359.70,214.60 359.70,217.80 361.70,217.80 361.70,221.00 363.75,221.00 363.75,222.65 365.80,222.65 365.80,224.30 367.74,224.30 367.74,224.50 369.68,224.50 369.68,224.70 371.62,224.70 371.62,224.90 373.56,224.90 373.56,225.10 375.50,225.10 375.50,225.30 377.45,225.30 377.45,225.32 379.40,225.32 379.40,225.34 381.35,225.34 381.35,225.36 383.30,225.36 383.30,225.38 385.25,225.38 385.25,225.40 387.20,225.40 387.20,225.42 389.15,225.42 389.15,225.44 391.10,225.44 391.10,225.46 393.05,225.46 393.05,225.48 395.00,225.48 395.00,225.50 396.92,225.50 396.92,225.58 398.85,225.58 398.85,225.65 400.77,225.65 400.77,225.73 402.69,225.73 402.69,225.81 404.62,225.81 404.62,225.88 406.54,225.88 406.54,225.96 408.46,225.96 408.46,226.04 410.38,226.04 410.38,226.12 412.31,226.12 412.31,226.19 414.23,226.19 414.23,226.27 416.15,226.27 416.15,226.35 418.08,226.35 418.08,226.42 420.00,226.42 420.00,226.50 422.00,226.50 422.00,226.65 424.00,226.65 424.00,226.80 426.00,226.80 426.00,226.95 428.00,226.95 428.00,227.10 430.00,227.10 430.00,227.25 432.00,227.25 432.00,227.40 434.00,227.40 434.00,227.55 436.00,227.55 436.00,227.70 438.00,227.70 438.00,227.85 440.00,227.85 440.00,228.00 442.00,228.00 442.00,228.05 444.00,228.05 444.00,228.11 446.00,228.11 446.00,228.16 448.00,228.16 448.00,228.21 450.00,228.21 450.00,228.27 452.00,228.27 452.00,228.32 454.00,228.32 454.00,228.37 456.00,228.37 456.00,228.43 458.00,228.43 458.00,228.48 460.00,228.48 460.00,228.53 462.00,228.53 462.00,228.59 464.00,228.59 464.00,228.64 466.00,228.64 466.00,228.69 468.00,228.69 468.00,228.75 470.00,228.75 470.00,228.80 472.00,228.80 472.00,228.82 474.00,228.82 474.00,228.84 476.00,228.84 476.00,228.86 478.00,228.86 478.00,228.88 480.00,228.88 480.00,228.91 482.00,228.91 482.00,228.93 484.00,228.93 484.00,228.95 486.00,228.95 486.00,228.97 488.00,228.97 488.00,228.99 490.00,228.99 490.00,229.01 492.00,229.01 492.00,229.03 494.00,229.03 494.00,229.05 496.00,229.05 496.00,229.07 498.00,229.07 498.00,229.09 500.00,229.09 500.00,229.12 502.00,229.12 502.00,229.14 504.00,229.14 504.00,229.16 506.00,229.16 506.00,229.18 508.00,229.18 508.00,229.20" fill="none" stroke="#000" stroke-width="2.4" stroke-linejoin="miter" stroke-miterlimit="2" />
<rect x="292.0" y="182" width="4.40" height="48.00" fill="#000"/>
<polygon points="339.70,105.00 340.30,101.80 341.50,100.90 342.80,103.60 343.20,109.80 339.50,110.50" fill="#000"/>
<polyline points="34.50,481.00 36.40,481.00 36.40,478.20 37.90,478.20 37.90,476.35 39.40,476.35 39.40,474.50 41.60,474.50 41.60,468.15 43.80,468.15 43.80,461.80 46.00,461.80 46.00,454.40 48.20,454.40 48.20,447.00 49.65,447.00 49.65,438.20 51.10,438.20 51.10,429.40 52.80,429.40 52.80,416.00 53.90,416.00 53.90,405.00 54.50,405.00 54.50,402.90 55.10,402.90 55.10,392.30 55.60,392.30 55.60,383.90 56.40,383.90 56.40,375.40 57.50,375.40 57.50,374.90 58.20,374.90 58.20,372.20 59.80,372.20 59.80,370.10 60.90,370.10 60.90,368.50 62.50,368.50 62.50,365.30 63.00,365.30 63.00,361.60 63.50,361.60 63.50,371.20 64.00,371.20 64.00,375.40 64.60,375.40 64.60,383.90 65.60,383.90 65.60,392.30 66.70,392.30 66.70,398.70 67.80,398.70 67.80,402.90 68.00,402.90 68.00,405.00 69.20,405.00 69.20,415.00 70.50,415.00 70.50,427.30 71.90,427.30 71.90,443.70 74.60,443.70 74.60,457.30 76.60,457.30 76.60,465.50 79.20,465.50 79.20,473.20 80.90,473.20 80.90,474.87 82.60,474.87 82.60,476.53 84.30,476.53 84.30,478.20 86.00,478.20 86.00,478.93 87.70,478.93 87.70,479.67 89.40,479.67 89.40,480.40 91.20,480.40 91.20,481.00 93.00,481.00 93.00,481.60 94.80,481.60 94.80,482.20 96.60,482.20 96.60,482.80 98.40,482.80 98.40,483.40 100.16,483.40 100.16,483.49 101.91,483.49 101.91,483.57 103.67,483.57 103.67,483.66 105.43,483.66 105.43,483.74 107.19,483.74 107.19,483.83 108.94,483.83 108.94,483.91 110.70,483.91 110.70,484.00 112.70,483.79 114.70,483.67 116.70,483.91 118.70,483.87 120.70,483.92 122.70,483.87 124.70,483.66 126.70,483.93 128.70,483.86 130.70,483.50 132.70,484.18 134.70,483.69 136.70,483.54 138.70,483.92 140.70,484.00 142.70,483.48 144.70,483.99 146.70,484.03 148.70,483.81 150.70,483.57 152.70,484.11 154.70,483.91 156.70,483.90 158.70,483.45 160.70,483.81 162.70,483.43 164.70,484.05 166.70,483.90 168.70,483.61 170.70,483.40 172.70,483.79 174.70,484.00 176.70,484.09 178.70,483.72 180.70,484.03 182.70,483.47 184.70,483.45 186.70,484.03 188.70,483.95 190.70,483.47 192.70,483.62 194.70,483.47 196.70,483.89 198.70,484.08 200.70,483.94 202.70,483.49 204.70,483.96 206.70,483.89 208.70,483.82 210.70,483.82 212.70,483.83 214.70,483.37 216.70,484.06 218.70,484.20 220.70,483.35 222.70,483.41 224.70,483.31 226.70,483.81 228.70,483.34 230.70,483.37 232.70,484.00 234.70,483.53 236.70,483.45 238.70,483.60 240.70,483.73 242.70,483.94 244.70,483.89 246.50,484.00" fill="none" stroke="#000" stroke-width="1.2" stroke-linejoin="miter" stroke-miterlimit="2" />
<rect x="32.0" y="287.7" width="2.00" height="197.30" fill="#000"/>
<rect x="32.0" y="383" width="3.00" height="102.00" fill="#000"/>
<polyline points="35.00,481.50 37.20,481.50 37.20,481.20 39.40,481.20 39.40,481.40 41.60,481.40 41.60,481.60 43.40,481.60 43.40,481.50 45.20,481.50 45.20,481.40 47.00,481.40 47.00,481.30 48.80,481.30 48.80,481.20 50.87,481.20 50.87,480.90 52.93,480.90 52.93,480.60 55.00,480.60 55.00,480.30 56.75,480.30 56.75,479.45 58.50,479.45 58.50,478.60 60.20,478.60 60.20,476.60 61.90,476.60 61.90,474.60 64.80,474.60 64.80,467.30 67.70,467.30 67.70,458.60 69.60,458.60 69.60,450.00 71.20,450.00 71.20,443.70 72.80,443.70 72.80,427.00 74.00,427.00 74.00,416.00 74.70,416.00 74.70,408.00 75.70,408.00 75.70,402.90 76.70,402.90 76.70,392.30 77.30,392.30 77.30,381.70 78.70,381.70 78.70,380.70 78.90,380.70 78.90,371.20 79.40,371.20 79.40,366.90 79.90,366.90 79.90,357.40 81.50,357.40 81.50,355.30 83.10,355.30 83.10,358.50 84.20,358.50 84.20,365.90 84.70,365.90 84.70,371.20 85.20,371.20 85.20,381.70 86.30,381.70 86.30,384.90 86.80,384.90 86.80,392.30 87.90,392.30 87.90,397.60 88.60,397.60 88.60,408.00 89.00,408.00 89.00,415.00 90.00,415.00 90.00,430.70 91.50,430.70 91.50,446.10 93.80,446.10 93.80,456.80 95.35,456.80 95.35,462.20 96.90,462.20 96.90,467.60 99.50,467.60 99.50,473.30 101.25,473.30 101.25,475.25 103.00,475.25 103.00,477.20 104.75,477.20 104.75,478.40 106.50,478.40 106.50,479.60 108.60,479.60 108.60,480.30 110.70,480.30 110.70,481.00 112.62,481.00 112.62,481.05 114.55,481.05 114.55,481.10 116.47,481.10 116.47,481.15 118.40,481.15 118.40,481.20 120.33,481.20 120.33,481.25 122.25,481.25 122.25,481.30 124.17,481.30 124.17,481.35 126.10,481.35 126.10,481.40 128.01,481.40 128.01,481.38 129.93,481.38 129.93,481.35 131.84,481.35 131.84,481.32 133.75,481.32 133.75,481.30 135.66,481.30 135.66,481.27 137.57,481.27 137.57,481.25 139.49,481.25 139.49,481.22 141.40,481.22 141.40,481.20 143.55,481.20 143.55,481.27 145.70,481.27 145.70,481.35 147.85,481.35 147.85,481.43 150.00,481.43 150.00,481.50 152.00,481.50 152.00,481.58 154.00,481.58 154.00,481.66 156.00,481.66 156.00,481.74 158.00,481.74 158.00,481.82 160.00,481.82 160.00,481.90 162.00,481.90 162.00,481.98 164.00,481.98 164.00,482.06 166.00,482.06 166.00,482.14 168.00,482.14 168.00,482.22 170.00,482.22 170.00,482.30 172.00,482.30 172.00,482.36 174.00,482.36 174.00,482.42 176.00,482.42 176.00,482.48 178.00,482.48 178.00,482.54 180.00,482.54 180.00,482.60 182.00,482.60 182.00,482.66 184.00,482.66 184.00,482.72 186.00,482.72 186.00,482.78 188.00,482.78 188.00,482.84 190.00,482.84 190.00,482.90 192.00,482.90 192.00,482.96 194.00,482.96 194.00,483.02 196.00,483.02 196.00,483.08 198.00,483.08 198.00,483.14 200.00,483.14 200.00,483.20 202.02,483.20 202.02,483.22 204.04,483.22 204.04,483.23 206.07,483.23 206.07,483.25 208.09,483.25 208.09,483.27 210.11,483.27 210.11,483.29 212.13,483.29 212.13,483.30 214.15,483.30 214.15,483.32 216.17,483.32 216.17,483.34 218.20,483.34 218.20,483.36 220.22,483.36 220.22,483.37 222.24,483.37 222.24,483.39 224.26,483.39 224.26,483.41 226.28,483.41 226.28,483.43 228.30,483.43 228.30,483.44 230.33,483.44 230.33,483.46 232.35,483.46 232.35,483.48 234.37,483.48 234.37,483.50 236.39,483.50 236.39,483.51 238.41,483.51 238.41,483.53 240.43,483.53 240.43,483.55 242.46,483.55 242.46,483.57 244.48,483.57 244.48,483.58 246.50,483.58 246.50,483.60" fill="none" stroke="#000" stroke-width="2.5" stroke-linejoin="miter" stroke-miterlimit="2" />
<rect x="32.0" y="436.6" width="5.20" height="48.40" fill="#000"/>
<polygon points="79.90,357.40 81.50,355.30 83.10,358.50 84.20,365.90 79.40,366.90" fill="#000"/>
<polyline points="297.00,480.00 298.30,475.50 300.10,471.50 302.50,467.20 304.90,463.20 305.50,458.90 306.90,454.50 306.90,446.00 308.80,441.50 308.80,432.90 311.20,429.30 310.90,403.30 312.90,399.20 312.90,390.80 317.30,386.40 318.60,382.10 319.60,377.70 321.80,386.40 321.80,399.20 323.70,403.30 325.90,407.70 325.90,420.20 327.80,424.80 328.40,428.80 329.50,445.40 332.40,450.20 332.40,454.50 336.50,461.00 340.60,467.00 343.00,471.30 344.90,475.70 348.75,477.60 365.00,477.60 400.00,481.00 510.00,482.00" fill="none" stroke="#000" stroke-width="1.7" stroke-linejoin="miter" stroke-miterlimit="2" stroke-dasharray="1.6 2.6"/>
<polyline points="298.00,481.50 299.75,481.50 299.75,481.38 301.50,481.38 301.50,481.25 303.25,481.25 303.25,481.12 305.00,481.12 305.00,481.00 306.75,481.00 306.75,479.75 308.50,479.75 308.50,478.50 310.80,478.50 310.80,476.20 312.70,476.20 312.70,474.20 314.60,474.20 314.60,470.40 316.50,470.40 316.50,466.50 317.95,466.50 317.95,464.10 319.40,464.10 319.40,461.70 320.85,461.70 320.85,459.30 322.30,459.30 322.30,456.90 324.20,456.90 324.20,452.10 326.20,452.10 326.20,446.30 328.10,446.30 328.10,440.60 330.50,440.60 330.50,435.80 332.50,435.80 332.50,430.00 333.80,430.00 333.80,422.90 335.80,422.90 335.80,420.00 337.25,420.00 337.25,418.80 338.70,418.80 338.70,417.60 341.10,417.60 341.10,414.00 343.00,414.00 343.00,416.00 344.90,416.00 344.90,418.00 346.80,418.00 346.80,420.00 348.80,420.00 348.80,427.70 350.20,427.70 350.20,432.00 351.50,432.00 351.50,436.00 352.70,436.00 352.70,440.80 354.00,440.80 354.00,446.00 355.80,446.00 355.80,453.10 357.70,453.10 357.70,457.70 359.60,457.70 359.60,462.30 361.55,462.30 361.55,466.15 363.50,466.15 363.50,470.00 365.53,470.00 365.53,471.80 367.57,471.80 367.57,473.60 369.60,473.60 369.60,475.40 371.67,475.40 371.67,476.17 373.73,476.17 373.73,476.93 375.80,476.93 375.80,477.70 377.64,477.70 377.64,478.00 379.48,478.00 379.48,478.30 381.32,478.30 381.32,478.60 383.16,478.60 383.16,478.90 385.00,478.90 385.00,479.20 386.73,479.20 386.73,479.40 388.45,479.40 388.45,479.60 390.18,479.60 390.18,479.80 391.90,479.80 391.90,480.00 393.62,480.00 393.62,480.20 395.35,480.20 395.35,480.40 397.07,480.40 397.07,480.60 398.80,480.60 398.80,480.80 400.59,480.80 400.59,480.82 402.39,480.82 402.39,480.83 404.18,480.83 404.18,480.85 405.97,480.85 405.97,480.86 407.77,480.86 407.77,480.88 409.56,480.88 409.56,480.90 411.35,480.90 411.35,480.91 413.15,480.91 413.15,480.93 414.94,480.93 414.94,480.95 416.74,480.95 416.74,480.96 418.53,480.96 418.53,480.98 420.32,480.98 420.32,480.99 422.12,480.99 422.12,481.01 423.91,481.01 423.91,481.03 425.70,481.03 425.70,481.04 427.50,481.04 427.50,481.06 429.29,481.06 429.29,481.07 431.08,481.07 431.08,481.09 432.88,481.09 432.88,481.11 434.67,481.11 434.67,481.12 436.46,481.12 436.46,481.14 438.26,481.14 438.26,481.15 440.05,481.15 440.05,481.17 441.85,481.17 441.85,481.19 443.64,481.19 443.64,481.20 445.43,481.20 445.43,481.22 447.23,481.22 447.23,481.24 449.02,481.24 449.02,481.25 450.81,481.25 450.81,481.27 452.61,481.27 452.61,481.28 454.40,481.28 454.40,481.30 456.19,481.30 456.19,481.32 457.99,481.32 457.99,481.33 459.78,481.33 459.78,481.35 461.57,481.35 461.57,481.36 463.37,481.36 463.37,481.38 465.16,481.38 465.16,481.40 466.95,481.40 466.95,481.41 468.75,481.41 468.75,481.43 470.54,481.43 470.54,481.45 472.34,481.45 472.34,481.46 474.13,481.46 474.13,481.48 475.92,481.48 475.92,481.49 477.72,481.49 477.72,481.51 479.51,481.51 479.51,481.53 481.30,481.53 481.30,481.54 483.10,481.54 483.10,481.56 484.89,481.56 484.89,481.57 486.68,481.57 486.68,481.59 488.48,481.59 488.48,481.61 490.27,481.61 490.27,481.62 492.06,481.62 492.06,481.64 493.86,481.64 493.86,481.65 495.65,481.65 495.65,481.67 497.45,481.67 497.45,481.69 499.24,481.69 499.24,481.70 501.03,481.70 501.03,481.72 502.83,481.72 502.83,481.74 504.62,481.74 504.62,481.75 506.41,481.75 506.41,481.77 508.21,481.77 508.21,481.78 510.00,481.78 510.00,481.80" fill="none" stroke="#000" stroke-width="1.15" stroke-linejoin="miter" stroke-miterlimit="2" />
<polyline points="297.00,479.50 299.00,479.50 299.00,479.57 301.00,479.57 301.00,479.65 303.00,479.65 303.00,479.73 305.00,479.73 305.00,479.80 307.00,479.80 307.00,479.76 309.00,479.76 309.00,479.72 311.00,479.72 311.00,479.68 313.00,479.68 313.00,479.64 315.00,479.64 315.00,479.60 316.82,479.60 316.82,479.45 318.65,479.45 318.65,479.30 320.48,479.30 320.48,479.15 322.30,479.15 322.30,479.00 325.20,479.00 325.20,477.60 327.10,477.60 327.10,475.20 330.00,475.20 330.00,472.30 332.40,472.30 332.40,468.50 334.60,468.50 334.60,464.60 335.80,464.60 335.80,459.00 337.20,459.00 337.20,455.50 338.20,455.50 338.20,449.50 339.60,449.50 339.60,443.20 341.00,443.20 341.00,437.00 341.80,437.00 341.80,429.50 343.00,429.50 343.00,421.90 343.50,421.90 343.50,417.10 341.10,417.10 341.10,412.30 342.00,412.30 342.00,405.60 343.70,405.60 343.70,406.55 345.40,406.55 345.40,407.50 347.30,407.50 347.30,408.95 349.20,408.95 349.20,410.40 351.15,410.40 351.15,411.85 353.10,411.85 353.10,413.30 356.00,413.30 356.00,417.10 357.90,417.10 357.90,421.90 358.40,421.90 358.40,428.70 359.30,428.70 359.30,435.40 360.40,435.40 360.40,439.20 362.70,439.20 362.70,442.30 365.00,442.30 365.00,445.40 366.50,445.40 366.50,447.00 368.10,447.00 368.10,453.10 370.00,453.10 370.00,456.15 371.90,456.15 371.90,459.20 374.20,459.20 374.20,461.90 376.50,461.90 376.50,464.60 378.30,464.60 378.30,465.37 380.10,465.37 380.10,466.13 381.90,466.13 381.90,466.90 383.85,466.90 383.85,468.85 385.80,468.85 385.80,470.80 387.70,470.80 387.70,472.70 389.60,472.70 389.60,474.60 391.90,474.60 391.90,475.75 394.20,475.75 394.20,476.90 396.27,476.90 396.27,477.43 398.33,477.43 398.33,477.97 400.40,477.97 400.40,478.50 402.24,478.50 402.24,478.80 404.08,478.80 404.08,479.10 405.92,479.10 405.92,479.40 407.76,479.40 407.76,479.70 409.60,479.70 409.60,480.00 411.53,480.00 411.53,480.06 413.45,480.06 413.45,480.12 415.38,480.12 415.38,480.19 417.30,480.19 417.30,480.25 419.23,480.25 419.23,480.31 421.15,480.31 421.15,480.38 423.07,480.38 423.07,480.44 425.00,480.44 425.00,480.50 426.88,480.50 426.88,480.38 428.75,480.38 428.75,480.25 430.62,480.25 430.62,480.12 432.50,480.12 432.50,480.00 434.38,480.00 434.38,479.88 436.25,479.88 436.25,479.75 438.12,479.75 438.12,479.62 440.00,479.62 440.00,479.50 442.00,479.50 442.00,479.53 444.00,479.53 444.00,479.56 446.00,479.56 446.00,479.59 448.00,479.59 448.00,479.61 450.00,479.61 450.00,479.64 452.00,479.64 452.00,479.67 454.00,479.67 454.00,479.70 456.00,479.70 456.00,479.73 458.00,479.73 458.00,479.76 460.00,479.76 460.00,479.79 462.00,479.79 462.00,479.81 464.00,479.81 464.00,479.84 466.00,479.84 466.00,479.87 468.00,479.87 468.00,479.90 470.00,479.90 470.00,479.93 472.00,479.93 472.00,479.96 474.00,479.96 474.00,479.99 476.00,479.99 476.00,480.01 478.00,480.01 478.00,480.04 480.00,480.04 480.00,480.07 482.00,480.07 482.00,480.10 484.00,480.10 484.00,480.13 486.00,480.13 486.00,480.16 488.00,480.16 488.00,480.19 490.00,480.19 490.00,480.21 492.00,480.21 492.00,480.24 494.00,480.24 494.00,480.27 496.00,480.27 496.00,480.30 498.00,480.30 498.00,480.33 500.00,480.33 500.00,480.36 502.00,480.36 502.00,480.39 504.00,480.39 504.00,480.41 506.00,480.41 506.00,480.44 508.00,480.44 508.00,480.47 510.00,480.47 510.00,480.50" fill="none" stroke="#000" stroke-width="2.7" stroke-linejoin="miter" stroke-miterlimit="2" />
<rect x="293.5" y="475.5" width="5.00" height="6.50" fill="#000"/>
<polygon points="341.50,405.50 343.00,404.30 345.40,406.80 349.20,409.80 353.10,412.80 356.30,416.30 357.30,419.00 355.00,418.30 351.50,415.60 347.50,412.80 344.80,411.80 343.20,415.00 341.40,412.00" fill="#000"/>
<polygon points="352.80,412.50 356.00,416.00 357.90,421.90 358.40,428.70 359.30,435.40 357.20,436.50 355.60,431.00 354.30,423.00 353.20,417.00" fill="#000"/>
<rect x="294.2" y="454.20" width="3.10" height="1.3" fill="#000"/>
<rect x="294.2" y="456.65" width="3.10" height="1.3" fill="#000"/>
<rect x="294.2" y="459.10" width="3.10" height="1.3" fill="#000"/>
<rect x="294.2" y="461.55" width="3.10" height="1.3" fill="#000"/>
<rect x="294.2" y="464.00" width="3.10" height="1.3" fill="#000"/>
<rect x="294.2" y="466.45" width="3.10" height="1.3" fill="#000"/>
<rect x="294.2" y="468.90" width="3.10" height="1.3" fill="#000"/>
<rect x="294.2" y="471.35" width="3.10" height="1.3" fill="#000"/>
<rect x="294.2" y="473.80" width="3.10" height="1.3" fill="#000"/>
<line x1="37" y1="529.3" x2="462" y2="528.5" stroke="#000" stroke-width="2.2"/>
<polygon points="460,519.7 478.2,528.6 460,537.6" fill="#000"/>
<g transform="translate(119.80,580.00)"><text x="0" y="0" text-anchor="start" font-size="20.9" stroke="#000" stroke-width="0.25">log10 fluorescence intensity</text><rect x="28.68" y="-2.01" width="4.41" height="3.16" fill="#fff"/><rect x="35.07" y="-2.01" width="4.25" height="3.16" fill="#fff"/></g>
</svg>
</body></html>
